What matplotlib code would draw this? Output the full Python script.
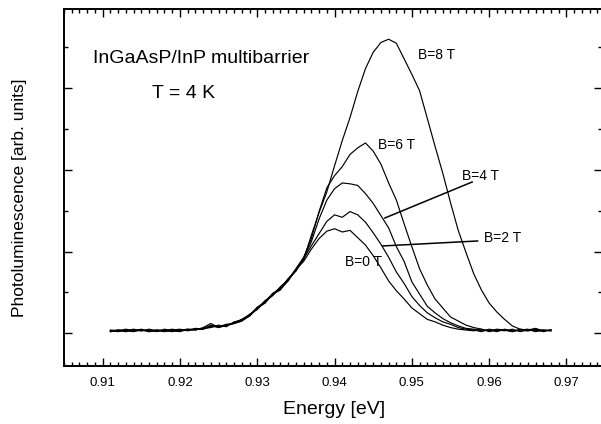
import numpy as np
import matplotlib
matplotlib.use("Agg")
import matplotlib.pyplot as plt
from matplotlib.ticker import MultipleLocator

plt.rcParams["font.family"] = ["Liberation Sans", "DejaVu Sans"]

# energy grid (eV), 1 meV steps
energy = np.arange(911, 969) / 1000.0

pl_0T = [0.02, 0.04, 0.03, 0.05, 0.03, 0.04, 0.02, 0.05, 0.03, 0.04,
         0.05, 0.04, 0.07, 0.12, 0.07, 0.10, 0.12, 0.15, 0.21, 0.31,
         0.37, 0.48, 0.54, 0.64, 0.78, 0.88,
         1.03, 1.16, 1.25, 1.28, 1.24, 1.26, 1.17, 1.08, 0.95, 0.80,
         0.64, 0.52, 0.42, 0.31, 0.24, 0.17, 0.14, 0.10, 0.07, 0.05,
         0.04, 0.03, 0.05, 0.02, 0.04, 0.03, 0.05, 0.02, 0.04, 0.03, 0.04, 0.03]
pl_2T = [0.03, 0.02, 0.04, 0.03, 0.05, 0.02, 0.04, 0.03, 0.05, 0.03,
         0.04, 0.06, 0.05, 0.08, 0.09, 0.09, 0.13, 0.17, 0.23, 0.29,
         0.39, 0.46, 0.56, 0.66, 0.76, 0.91,
         1.07, 1.22, 1.37, 1.45, 1.42, 1.49, 1.45, 1.36, 1.23, 1.09,
         0.93, 0.75, 0.61, 0.45, 0.34, 0.25, 0.19, 0.14, 0.11, 0.07,
         0.05, 0.04, 0.02, 0.05, 0.03, 0.04, 0.02, 0.05, 0.03, 0.04, 0.02, 0.04]
pl_4T = [0.04, 0.03, 0.02, 0.04, 0.03, 0.05, 0.03, 0.02, 0.04, 0.05,
         0.03, 0.05, 0.06, 0.07, 0.10, 0.08, 0.14, 0.16, 0.22, 0.32,
         0.38, 0.49, 0.55, 0.67, 0.77, 0.92,
         1.12, 1.40, 1.63, 1.77, 1.84, 1.83, 1.81, 1.71, 1.59, 1.44,
         1.29, 1.06, 0.88, 0.63, 0.48, 0.33, 0.25, 0.18, 0.13, 0.09,
         0.06, 0.05, 0.03, 0.04, 0.02, 0.05, 0.03, 0.04, 0.05, 0.02, 0.04, 0.03]
pl_6T = [0.03, 0.04, 0.03, 0.02, 0.04, 0.03, 0.04, 0.03, 0.02, 0.04,
         0.04, 0.05, 0.05, 0.10, 0.08, 0.11, 0.12, 0.15, 0.23, 0.30,
         0.40, 0.47, 0.57, 0.65, 0.79, 0.93,
         1.16, 1.49, 1.78, 1.93, 2.04, 2.19, 2.27, 2.33, 2.23, 2.07,
         1.84, 1.63, 1.34, 1.06, 0.79, 0.59, 0.42, 0.31, 0.20, 0.15,
         0.10, 0.07, 0.05, 0.03, 0.05, 0.04, 0.02, 0.04, 0.03, 0.05, 0.03, 0.04]
pl_8T = [0.02, 0.03, 0.05, 0.03, 0.04, 0.02, 0.03, 0.04, 0.03, 0.02,
         0.05, 0.04, 0.06, 0.09, 0.07, 0.10, 0.12, 0.17, 0.21, 0.31,
         0.37, 0.48, 0.53, 0.66, 0.78, 0.90,
         1.20, 1.48, 1.73, 2.05, 2.36, 2.64, 2.96, 3.24, 3.44, 3.56,
         3.60, 3.55, 3.36, 3.17, 2.97, 2.63, 2.29, 1.96, 1.60, 1.26,
         0.99, 0.73, 0.53, 0.37, 0.26, 0.17, 0.09, 0.05, 0.04, 0.06, 0.03, 0.04]

spectra = [pl_0T, pl_2T, pl_4T, pl_6T, pl_8T]

# curve labels: text, x, y (data units)
labels = [("B=8 T", 0.9508, 3.41), ("B=6 T", 0.9456, 2.30),
          ("B=4 T", 0.9565, 1.93), ("B=2 T", 0.9593, 1.17),
          ("B=0 T", 0.9413, 0.87)]
# leader lines: (x0, x1), (y0, y1)
leaders = [((0.9578, 0.9465), (1.852, 1.411)),
           ((0.9585, 0.9462), (1.13, 1.069))]

fig = plt.figure(figsize=(6.01, 4.24), dpi=100)
ax = fig.add_axes([64 / 601, 58.3 / 424, 538 / 601, 356.7 / 424])

for pl in spectra:
    ax.plot(energy, pl, color="black", lw=0.85)

for txt, x, y in labels:
    ax.text(x, y, txt, fontsize=10, ha="left", va="center")
for xs, ys in leaders:
    ax.plot(xs, ys, color="black", lw=1.1)

ax.text(0.90875, 3.37, "InGaAsP/InP multibarrier", fontsize=14, va="center")
ax.text(0.91638, 2.93, "T = 4 K", fontsize=14, va="center")

ax.set_xlim(0.905, 0.9746)
ax.set_ylim(-0.397, 3.97)
ax.xaxis.set_major_locator(MultipleLocator(0.01))
ax.xaxis.set_minor_locator(MultipleLocator(0.001))
ax.yaxis.set_major_locator(MultipleLocator(1.0))
ax.yaxis.set_minor_locator(MultipleLocator(0.5))
ax.tick_params(which="both", direction="in", top=True, right=True, width=1.0)
ax.tick_params(which="major", length=6)
ax.tick_params(which="minor", length=3)
ax.tick_params(axis="x", labelsize=9.5, pad=8)
ax.set_yticklabels([])
ax.xaxis.set_major_formatter(matplotlib.ticker.FormatStrFormatter("%.2f"))
for s in ax.spines.values():
    s.set_linewidth(1.4)

fig.text(334 / 601, 1 - 410 / 424, "Energy [eV]", fontsize=14, ha="center", va="center")
fig.text(20 / 601, 1 - 198 / 424, "Photoluminescence [arb. units]", fontsize=12.5,
         rotation=90, ha="center", va="center")

fig.savefig("out.png", dpi=100)
